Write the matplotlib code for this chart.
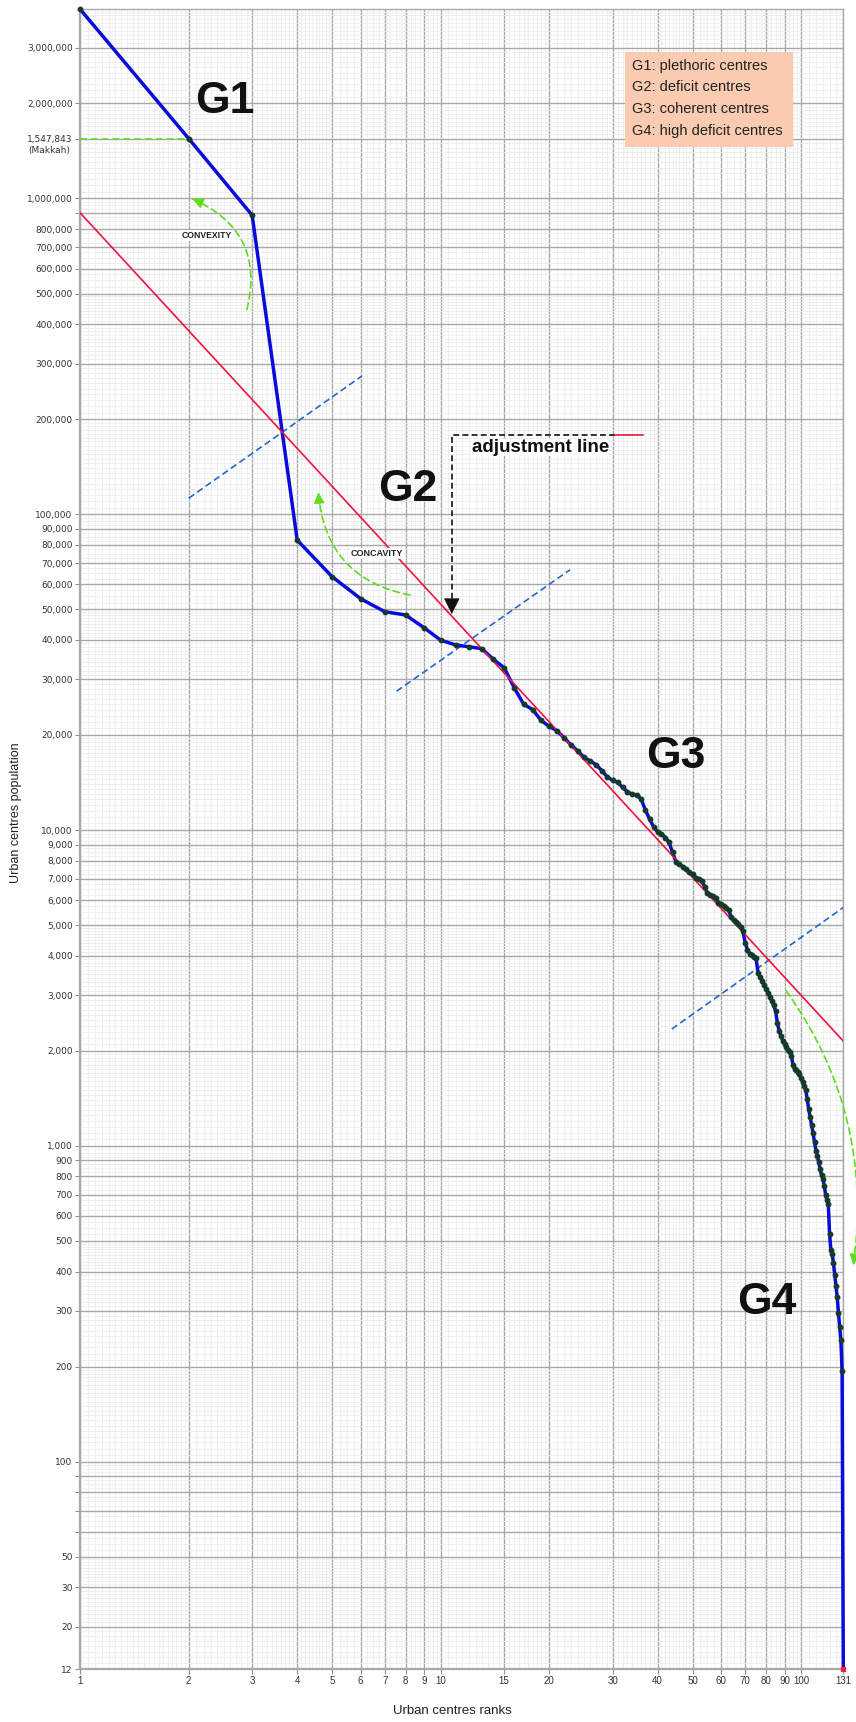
import numpy as np
import matplotlib
matplotlib.use("Agg")
import matplotlib.pyplot as plt
from matplotlib.patches import Rectangle
from matplotlib.ticker import FixedLocator, FixedFormatter, NullFormatter

# rank-size data (rank 2 = Makkah)
ranks = list(range(1, 132))
population = [
    3972000, 1547843, 884500, 82820, 63410, 54020, 49140, 47970, 43700, 39940,
    38570, 38040, 37540, 34750, 32660, 28250, 25020, 24070, 22250, 21290,
    20650, 19610, 18610, 17810, 16990, 16550, 16100, 15430, 14720, 14380,
    14150, 13650, 13200, 12990, 12910, 12550, 11560, 10840, 10230, 9860,
    9750, 9470, 9150, 8500, 7920, 7790, 7650, 7505, 7370, 7237,
    7075, 6980, 6920, 6620, 6306, 6242, 6183, 6080, 5890, 5830,
    5767, 5684, 5569, 5300, 5193, 5130, 5044, 4917, 4783, 4396,
    4183, 4060, 4013, 3967, 3924, 3538, 3429, 3329, 3233, 3141,
    3053, 2968, 2874, 2786, 2666, 2450, 2308, 2221, 2154, 2100,
    2051, 2011, 1979, 1932, 1800, 1749, 1733, 1718, 1687, 1642,
    1594, 1549, 1504, 1410, 1309, 1234, 1163, 1096, 1025, 966,
    927, 888, 844, 808, 787, 748, 700, 672, 653, 527,
    467, 455, 427, 390, 361, 332, 296, 267, 242, 193,
    12,
]

# adjustment (rank-size) line and group separators
adjust_x = [1, 131]
adjust_y = [900000, 2147]
sep_lines = [
    ([2.0, 6.05], [112400, 274100]),
    ([7.55, 22.86], [27530, 66720]),
    ([43.8, 131], [2344, 5684]),
]
makkah_pop = 1547843

group_names = ["G1", "G2", "G3", "G4"]
group_x = [2.52, 8.12, 45.0, 80.5]
group_y = [2027000, 120000, 17070, 320]
legend_lines = ["G1: plethoric centres", "G2: deficit centres",
                "G3: coherent centres", "G4: high deficit centres"]

# curvature arcs: (start, end, bend)
arcs = [
    ((2.9, 445000), (2.05, 996400), 0.42),
    ((8.22, 55490), (4.58, 117200), -0.38),
    ((90.9, 3099), (139.7, 420), -0.2),
]

x_ticks = [1, 2, 3, 4, 5, 6, 7, 8, 9, 10, 15, 20, 30, 40, 50, 60, 70, 80, 90, 100, 131]
y_labelled = [3000000, 2000000, 1547843, 1000000, 800000, 700000, 600000, 500000,
              400000, 300000, 200000, 100000, 90000, 80000, 70000, 60000, 50000,
              40000, 30000, 20000, 10000, 9000, 8000, 7000, 6000, 5000, 4000,
              3000, 2000, 1000, 900, 800, 700, 600, 500, 400, 300, 200, 100,
              50, 30, 20, 12]
y_unlabelled = [900000, 90, 80, 70, 60]

# the original axis is squeezed below 50: labels 30/20/12 sit where 40/30/22 would be
lab_pts = np.log10([12, 20, 30, 50])
pos_pts = np.log10([22, 30, 40, 50])


def fwd(v):
    lv = np.log10(np.clip(np.asarray(v, dtype=float), 1e-3, None))
    return np.where(lv >= pos_pts[-1], lv, np.interp(lv, lab_pts, pos_pts))


def inv(p):
    p = np.asarray(p, dtype=float)
    return np.where(p >= pos_pts[-1], 10.0 ** p, 10.0 ** np.interp(p, pos_pts, lab_pts))


def minor_positions(decades, lo, hi):
    m = np.concatenate([np.arange(1.05, 1.99, 0.05), np.arange(2.1, 4.95, 0.1),
                        np.arange(5.25, 9.9, 0.25)])
    vals = np.concatenate([m * d for d in decades])
    return vals[(vals > lo) & (vals < hi)]


plt.rcParams['font.family'] = ['Liberation Sans', 'DejaVu Sans']

W, H = 856, 1722
fig = plt.figure(figsize=(W / 100, H / 100), dpi=100)
ax = fig.add_axes([80.2 / W, 52.7 / H, 763.1 / W, 1660 / H])
ax.set_xscale('log')
ax.set_yscale('function', functions=(fwd, inv))
ax.set_xlim(1, 131)
ax.set_ylim(12, 3972000)

# ticks and grid
ax.xaxis.set_major_locator(FixedLocator(x_ticks))
ax.xaxis.set_major_formatter(FixedFormatter([str(t) for t in x_ticks]))
ax.xaxis.set_minor_locator(FixedLocator(minor_positions([1, 10, 100], 1, 131)))
ax.xaxis.set_minor_formatter(NullFormatter())

y_major = y_labelled + y_unlabelled
y_major_lbl = [f"{v:,}" for v in y_labelled] + [""] * len(y_unlabelled)
ax.yaxis.set_major_locator(FixedLocator(y_major))
ax.yaxis.set_major_formatter(FixedFormatter(y_major_lbl))
y_minor_upper = minor_positions([10, 100, 1000, 10000, 100000, 1000000], 50, 3972000)
y_minor_band = inv(np.log10(minor_positions([10], 22, 50)))
ax.yaxis.set_minor_locator(FixedLocator(np.concatenate([y_minor_band, y_minor_upper])))
ax.yaxis.set_minor_formatter(NullFormatter())

ax.tick_params(which='minor', length=0)
ax.tick_params(axis='y', which='major', length=3.6, width=0.8, color='#909090',
               pad=1.8, labelsize=6.5, labelcolor='#333333')
ax.tick_params(axis='x', which='major', length=3.6, width=0.8, color='#909090',
               pad=1.2, labelsize=7, labelcolor='#333333')
for lbl in ax.get_yticklabels():
    lbl.set_family('DejaVu Sans')

ax.grid(which='minor', color='#ececec', lw=0.6)
ax.grid(which='major', color='#a8a8a8', lw=1.0)
ax.set_axisbelow(True)
for side in ['left', 'bottom']:
    ax.spines[side].set_color('#a8a8a8')
    ax.spines[side].set_linewidth(1.6)
for side in ['top', 'right']:
    ax.spines[side].set_color('#a8a8a8')
    ax.spines[side].set_linewidth(1.0)

ax.annotate('(Makkah)', xy=(0, makkah_pop), xycoords=('axes fraction', 'data'),
            xytext=(-22, -8.5), textcoords='offset points', ha='center', va='center',
            fontsize=6.5, family='DejaVu Sans', color='#333333', annotation_clip=False)

# reference lines
green = '#5fdc1e'
ax.plot([1, 2], [makkah_pop, makkah_pop], color=green, lw=1.2,
        linestyle=(0, (4, 2.5)), zorder=3, clip_on=False)
ax.plot(adjust_x, adjust_y, color='#f0143c', lw=1.2, zorder=5)
for sx, sy in sep_lines:
    ax.plot(sx, sy, color='#2468cc', lw=1.2, linestyle=(0, (4, 2.2)), zorder=3)

# rank-size curve
ax.plot(ranks, population, color='#0a0adc', lw=2.5, zorder=4, clip_on=False,
        solid_joinstyle='round')
ax.plot(ranks[:-1], population[:-1], 'o', color='#143a2a', ms=3.2, zorder=6,
        clip_on=False)
ax.plot(ranks[-1], population[-1], 's', color='#ff2040', ms=3.4, zorder=6,
        clip_on=False)


def solid_head(end, toward_px, color, scale):
    """Solid arrow head at `end`, pointing away from display point toward_px."""
    p1 = ax.transData.transform(end)
    d = toward_px - p1
    back = p1 + d / np.hypot(*d) * 12
    back_data = ax.transData.inverted().transform(back)
    ax.annotate('', xy=end, xytext=back_data, annotation_clip=False,
                arrowprops=dict(arrowstyle='-|>,head_length=0.8,head_width=0.4',
                                color=color, lw=0.5, shrinkA=0, shrinkB=0,
                                mutation_scale=scale), zorder=8)


# curvature arrows (dashed arc, solid head)
for start, end, rad in arcs:
    ax.annotate('', xy=end, xytext=start, annotation_clip=False,
                arrowprops=dict(arrowstyle='-', connectionstyle=f'arc3,rad={rad}',
                                color=green, lw=1.2, linestyle=(0, (4, 2.5)),
                                shrinkA=0, shrinkB=0))
    p0 = ax.transData.transform(start)
    p1 = ax.transData.transform(end)
    dx, dy = p1 - p0
    ctrl = (p0 + p1) / 2 + rad * np.array([dy, -dx])
    solid_head(end, ctrl, green, 9)

ax.text(2.244, 762600, 'CONVEXITY', fontsize=6.2, fontweight='bold', color='#222222',
        ha='center', va='center', zorder=7,
        bbox=dict(facecolor='white', edgecolor='none', pad=0.8))
ax.text(6.65, 75170, 'CONCAVITY', fontsize=6.5, fontweight='bold', color='#222222',
        ha='center', va='center', zorder=7,
        bbox=dict(facecolor='white', edgecolor='none', pad=0.8))

# adjustment line callout
ax.text(18.9, 163000, 'adjustment line', fontsize=13.5, fontweight='bold',
        color='#111111', ha='center', va='center', zorder=7,
        bbox=dict(facecolor='white', edgecolor='none', pad=0.2))
ax.plot([30.5, 10.74, 10.74], [177850, 177850, 54000], color='#111111', lw=1.2,
        linestyle=(0, (3.5, 2)), zorder=8)
solid_head((10.74, 48320), ax.transData.transform((10.74, 177850)), '#111111', 13)
ax.plot([30.5, 36.5], [177850, 177850], color='#f0143c', lw=1.2, zorder=8)

# group labels
for name, gx, gy in zip(group_names, group_x, group_y):
    ax.text(gx, gy, name, fontsize=32, fontweight='bold', color='#111111',
            ha='center', va='center', zorder=7)

# legend box
ax.add_patch(Rectangle((0.7142, 0.91687), 0.2194, 0.05759, transform=ax.transAxes,
                       facecolor='#f9cbb0', edgecolor='none', zorder=8))
for i, line in enumerate(legend_lines):
    ax.text(0.7234, 0.96602 - i * 0.01302, line, transform=ax.transAxes,
            fontsize=10.5, color='#222222', ha='left', va='center', zorder=9)

# axis titles
fig.text(16 / W, 1 - 813 / H, 'Urban centres population', rotation=90,
         ha='center', va='center', fontsize=9, color='#222222')
fig.text(452 / W, 1 - 1711 / H, 'Urban centres ranks', ha='center', va='center',
         fontsize=9.5, color='#222222')

fig.savefig('out.png', dpi=100)
